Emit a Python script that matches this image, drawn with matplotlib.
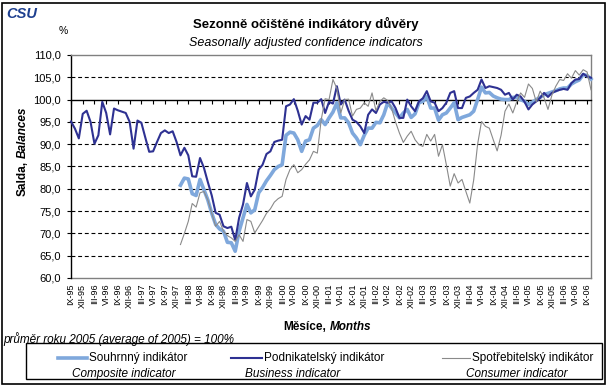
import matplotlib.pyplot as plt
from matplotlib.lines import Line2D
from matplotlib.patches import Rectangle
from matplotlib.ticker import FixedLocator, FuncFormatter

plt.rcParams['font.family'] = ['Liberation Sans', 'DejaVu Sans']

W, H = 609, 390

# months IX-95 .. X-06, index 0 = IX-95
tick_labels = [
    'IX-95', 'XII-95', 'III-96', 'VI-96', 'IX-96', 'XII-96', 'III-97', 'VI-97', 'IX-97',
    'XII-97', 'III-98', 'VI-98', 'IX-98', 'XII-98', 'III-99', 'VI-99', 'IX-99', 'XII-99',
    'III-00', 'VI-00', 'IX-00', 'XII-00', 'III-01', 'VI-01', 'IX-01', 'XII-01', 'III-02',
    'VI-02', 'IX-02', 'XII-02', 'III-03', 'VI-03', 'IX-03', 'XII-03', 'III-04', 'VI-04',
    'IX-04', 'XII-04', 'III-05', 'VI-05', 'IX-05', 'XII-05', 'III-06', 'VI-06', 'IX-06',
]

business = [
    95.1, 93.5, 91.3, 96.8, 97.5, 95.0, 90.1, 92.0, 99.5, 97.0,
    92.2, 98.0, 97.6, 97.3, 97.0, 95.0, 89.0, 95.3, 94.8, 91.5,
    88.3, 88.4, 90.5, 92.5, 93.1, 92.5, 92.9, 90.5, 87.5, 89.2,
    87.5, 82.8, 82.7, 86.9, 84.7, 81.5, 78.5, 74.6, 74.2, 71.6,
    71.2, 71.5, 68.5, 73.5, 76.5, 81.3, 78.3, 79.8, 84.3, 85.4,
    87.8, 88.4, 90.5, 90.8, 91.0, 98.5, 98.9, 100.1, 97.5, 94.4,
    96.3, 95.5, 99.3, 99.3, 100.1, 97.0, 99.5, 99.1, 103.0, 98.9,
    100.0, 97.5, 95.5, 95.0, 94.0, 92.5, 96.6, 97.8, 97.0, 98.9,
    99.5, 99.3, 99.6, 98.1, 95.9, 95.9, 100.0, 98.5, 97.4, 99.6,
    100.3, 101.9, 99.6, 99.3, 97.4, 98.1, 99.3, 101.5, 101.9, 98.1,
    98.1, 100.4, 100.7, 101.5, 102.2, 104.5, 102.6, 103.0, 102.8, 102.6,
    102.2, 101.1, 101.5, 100.0, 101.1, 100.7, 99.5, 97.8, 98.9, 99.6,
    100.4, 101.5, 100.6, 101.5, 101.9, 102.2, 102.4, 102.2, 103.7, 104.5,
    104.6, 105.8, 105.2, 104.9,
]

# composite and consumer start in I-98 (index 28)
start_98 = 28

composite = [
    80.8, 82.4, 82.2, 78.9, 78.5, 82.1, 79.8, 77.5, 74.5, 72.0,
    71.0, 70.5, 68.0, 67.9, 66.0, 70.5, 73.5, 76.5, 74.6, 75.3,
    79.1, 80.3, 81.8, 83.0, 84.3, 85.0, 85.4, 92.0, 92.7, 92.5,
    91.0, 88.4, 90.7, 91.0, 93.6, 94.2, 95.5, 94.4, 95.9, 97.2,
    99.3, 95.9, 95.9, 94.8, 92.5, 91.4, 89.9, 92.0, 93.6, 93.6,
    94.9, 94.8, 96.6, 99.3, 98.1, 97.0, 95.9, 97.0, 97.8, 96.0,
    96.8, 99.3, 99.6, 100.7, 98.1, 98.1, 95.4, 96.6, 97.0, 98.1,
    99.3, 95.5, 96.0, 96.3, 96.6, 97.4, 100.0, 102.8, 101.5, 101.6,
    100.8, 100.4, 100.1, 100.0, 100.0, 100.5, 100.5, 100.0, 99.6, 98.9,
    99.4, 100.0, 100.5, 101.1, 101.4, 101.7, 102.0, 102.4, 102.6, 102.6,
    103.5, 104.0, 104.4, 105.6, 105.4, 104.6,
]

consumer = [
    67.5, 70.0, 72.7, 76.7, 75.9, 79.1, 79.4, 77.5, 74.5, 71.6,
    72.7, 70.5, 69.5, 69.0, 68.2, 69.7, 68.2, 73.1, 72.7, 70.1,
    71.5, 72.9, 74.5, 75.5, 77.0, 77.8, 78.3, 82.1, 84.3, 85.4,
    83.6, 84.3, 85.5, 86.5, 88.4, 88.0, 95.5, 100.2, 100.0, 104.5,
    102.5, 97.0, 100.0, 100.1, 96.3, 97.8, 98.1, 99.3, 98.5, 101.5,
    97.5, 99.6, 100.4, 99.8, 98.0, 95.0, 92.5, 90.4, 91.8, 92.9,
    91.0, 89.9, 89.5, 92.2, 90.7, 92.2, 87.3, 89.9, 85.4, 80.6,
    83.4, 81.3, 82.1, 79.4, 76.8, 82.0, 90.0, 95.1, 94.0, 93.6,
    91.0, 88.5, 92.0, 97.4, 99.0, 97.0, 99.5, 101.5, 100.5, 103.5,
    102.5, 99.5, 101.9, 100.4, 97.8, 101.0, 103.0, 104.5, 104.3, 105.8,
    104.8, 106.5, 105.5, 106.7, 106.2, 102.2,
]

c_business = '#2e3192'
c_composite = '#7fa8dc'
c_consumer = '#8a8a8a'


def fx(px):
    return px / W


def fy(py):
    return 1 - py / H


fig = plt.figure(figsize=(W / 100, H / 100), dpi=100)
ax = fig.add_axes([fx(71), fy(278), fx(591) - fx(71), fy(55) - fy(278)])

x_all = list(range(len(business)))
x_98 = list(range(start_98, start_98 + len(composite)))

ax.plot(x_98, composite, color=c_composite, lw=2.6, solid_joinstyle='round', clip_on=False, zorder=3)
ax.plot(x_all, business, color=c_business, lw=1.5, clip_on=False, zorder=4)
ax.plot(x_98, consumer, color=c_consumer, lw=0.8, clip_on=False, zorder=5)

ax.set_xlim(0, len(business) - 1)
ax.set_ylim(60, 110)

# dashed grid
for v in range(65, 110, 5):
    if v != 100:
        ax.axhline(v, color='black', lw=0.8, ls=(0, (3.5, 2.5)), zorder=1)

ax.yaxis.set_major_locator(FixedLocator(list(range(60, 111, 5))))
ax.yaxis.set_major_formatter(FuncFormatter(lambda v, p: f'{v:.1f}'.replace('.', ',')))
ax.tick_params(axis='y', length=3, width=0.8, pad=4.5, labelsize=8, direction='out')

# category axis crosses at 100
ax.spines['bottom'].set_position(('data', 100))
ax.spines['bottom'].set_linewidth(1.0)
ax.spines['left'].set_linewidth(1.0)
for s in ('top', 'right'):
    ax.spines[s].set_color('#808080')
    ax.spines[s].set_linewidth(1.0)
ax.xaxis.set_major_locator(FixedLocator(list(range(0, len(business), 3))))
ax.tick_params(axis='x', length=3, width=0.8, direction='out', labelbottom=False)
ax.axhline(60, color='#808080', lw=1.0, clip_on=False, zorder=2)

sec = ax.secondary_xaxis(0)
sec.xaxis.set_major_locator(FixedLocator(list(range(0, len(business), 3))))
sec.set_xticklabels(tick_labels, rotation=90, fontsize=6.5)
sec.tick_params(length=0, pad=4)
sec.spines['bottom'].set_visible(False)

# titles
fig.text(fx(306), fy(24), 'Sezonně očištěné indikátory důvěry', ha='center', va='center',
         fontsize=9.5, fontweight='bold')
fig.text(fx(306), fy(43), 'Seasonally adjusted confidence indicators', ha='center', va='center',
         fontsize=9, style='italic')
fig.text(fx(63), fy(31), '%', ha='center', va='center', fontsize=7.5)
fig.text(fx(6), fy(14), 'CSU', ha='left', va='center', fontsize=10.5, fontweight='heavy',
         style='italic', color='#1d3f8f')

# axis labels
fig.text(fx(23), fy(161), 'Salda,', rotation=90, ha='center', va='top', fontsize=8.5, fontweight='bold')
fig.text(fx(23), fy(158), 'Balances', rotation=90, ha='center', va='bottom', fontsize=8.5,
         fontweight='bold', style='italic')
fig.text(fx(326), fy(327), 'Měsíce,', ha='right', va='center', fontsize=8.5, fontweight='bold')
fig.text(fx(330), fy(327), 'Months', ha='left', va='center', fontsize=8.5, fontweight='bold',
         style='italic')

fig.text(fx(3), fy(339), 'průměr roku 2005 (average of 2005) = 100%', ha='left', va='center',
         fontsize=8.5, style='italic')

# legend box
fig.add_artist(Rectangle((fx(26), fy(379)), fx(602) - fx(26), fy(343) - fy(379),
                         transform=fig.transFigure, fill=False, ec='black', lw=1))
legend_items = [
    (58, 87, c_composite, 2.6, 'Souhrnný indikátor', 72, 'Composite indicator'),
    (231, 262, c_business, 1.5, 'Podnikatelský indikátor', 245, 'Business indicator'),
    (442, 470, c_consumer, 0.8, 'Spotřebitelský indikátor', 466, 'Consumer indicator'),
]
for x0, x1, col, lw, cz, xe, en in legend_items:
    fig.add_artist(Line2D([fx(x0), fx(x1)], [fy(358), fy(358)], transform=fig.transFigure,
                          color=col, lw=lw))
    fig.text(fx(x1 + 2), fy(358), cz, ha='left', va='center', fontsize=8.5)
    fig.text(fx(xe), fy(374), en, ha='left', va='center', fontsize=8.5, style='italic')

# outer frame
fig.add_artist(Rectangle((fx(2), fy(384)), fx(605) - fx(2), fy(3) - fy(384),
                         transform=fig.transFigure, fill=False, ec='black', lw=1.2))

fig.savefig('out.png', dpi=100)
